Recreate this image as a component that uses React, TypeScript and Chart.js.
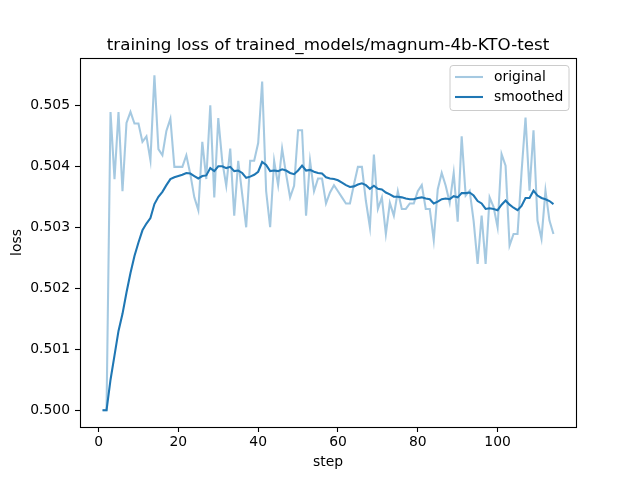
import React, { useEffect, useRef } from "react";
import { Chart, registerables } from "chart.js";

Chart.register(...registerables);

const chartTitle = "training loss of trained_models/magnum-4b-KTO-test";
const xLabel = "step";
const yLabel = "loss";
const seriesLabels = ["original", "smoothed"];

const steps = [
  1, 2, 3, 4, 5, 6, 7, 8, 9, 10, 11, 12, 13, 14, 15, 16, 17, 18, 19, 20,
  21, 22, 23, 24, 25, 26, 27, 28, 29, 30, 31, 32, 33, 34, 35, 36, 37, 38, 39, 40,
  41, 42, 43, 44, 45, 46, 47, 48, 49, 50, 51, 52, 53, 54, 55, 56, 57, 58, 59, 60,
  61, 62, 63, 64, 65, 66, 67, 68, 69, 70, 71, 72, 73, 74, 75, 76, 77, 78, 79, 80,
  81, 82, 83, 84, 85, 86, 87, 88, 89, 90, 91, 92, 93, 94, 95, 96, 97, 98, 99, 100,
  101, 102, 103, 104, 105, 106, 107, 108, 109, 110, 111, 112, 113, 114,
];

const originalLoss = [
  0.5, 0.5, 0.50489, 0.50379, 0.50489, 0.50359, 0.50471, 0.50489, 0.5047, 0.5047,
  0.5044, 0.50449, 0.5041, 0.50549, 0.50428, 0.50418, 0.50458, 0.50478, 0.50399, 0.50399,
  0.50399, 0.50418, 0.50387, 0.50349, 0.50328, 0.5044, 0.50379, 0.505, 0.50349, 0.50479,
  0.50408, 0.50368, 0.50429, 0.50319, 0.50409, 0.50354, 0.503, 0.50409, 0.50409, 0.50438,
  0.50539, 0.50359, 0.503, 0.50409, 0.50369, 0.50429, 0.50387, 0.50349, 0.50368, 0.50459,
  0.50459, 0.50319, 0.50409, 0.50359, 0.5038, 0.5038, 0.50339, 0.50357, 0.50369, 0.50359,
  0.50349, 0.50339, 0.50339, 0.5037, 0.50399, 0.50399, 0.50343, 0.503, 0.50419, 0.5033,
  0.50349, 0.50289, 0.5034, 0.50319, 0.50359, 0.5033, 0.5033, 0.50339, 0.50339, 0.50359,
  0.50369, 0.5033, 0.5033, 0.50279, 0.50362, 0.50389, 0.50368, 0.5034, 0.50389, 0.50309,
  0.50449, 0.50352, 0.5036, 0.5031, 0.5024, 0.50319, 0.5024, 0.50349, 0.50333, 0.503,
  0.5042, 0.50401, 0.5027, 0.50289, 0.50289, 0.5039, 0.5048, 0.5036, 0.50459, 0.50311,
  0.50281, 0.5036, 0.50311, 0.50289,
];

const smoothedLoss = [
  0.5, 0.5, 0.5005, 0.5009, 0.5013, 0.50158, 0.50193, 0.50225, 0.50253, 0.50275,
  0.50295, 0.50306, 0.50315, 0.50338, 0.5035, 0.50358, 0.50369, 0.50379, 0.50382, 0.50384,
  0.50386, 0.50389, 0.50388, 0.50384, 0.5038, 0.50384, 0.50385, 0.50397, 0.50392, 0.504,
  0.504, 0.50397, 0.50399, 0.50392, 0.50393, 0.50389, 0.50381, 0.50383, 0.50386, 0.50391,
  0.50407, 0.50402, 0.50392, 0.50393, 0.50392, 0.50395, 0.50393, 0.50389, 0.50387, 0.50393,
  0.50401, 0.50393, 0.50394, 0.50391, 0.50389, 0.50388, 0.50382, 0.5038, 0.50379, 0.50377,
  0.50373, 0.50369, 0.50366, 0.50367, 0.5037, 0.50372, 0.50369, 0.50363, 0.50368, 0.50363,
  0.50362, 0.50357, 0.50354, 0.5035, 0.5035, 0.50349, 0.50347, 0.50346, 0.50346, 0.50348,
  0.50349, 0.50347, 0.50346, 0.50339, 0.50342, 0.50346, 0.50347, 0.50346, 0.50351, 0.50349,
  0.50356, 0.50356, 0.50357, 0.50352, 0.50343, 0.50339, 0.5033, 0.50331, 0.5033, 0.50328,
  0.50337, 0.50344, 0.50337, 0.50332, 0.50328, 0.50335, 0.50348, 0.50348, 0.5036, 0.50352,
  0.50348, 0.50346, 0.50343, 0.50338,
];

const xTicks = [0, 20, 40, 60, 80, 100];
const yTicks = [0.5, 0.501, 0.502, 0.503, 0.504, 0.505];

const FONT = "'DejaVu Sans', 'Liberation Sans', sans-serif";
const BLUE = "#1f77b4";
const LIGHT_BLUE = "rgba(31,119,180,0.4)";

export default function App() {
  const canvasRef = useRef<HTMLCanvasElement | null>(null);

  useEffect(() => {
    const canvas = canvasRef.current;
    if (!canvas) return;

    const framePlugin = {
      id: "mplFrame",
      afterDraw(chart: any) {
        const { ctx, chartArea } = chart;
        const { left, right, top, bottom } = chartArea;
        ctx.save();
        // spines
        ctx.strokeStyle = "#000";
        ctx.lineWidth = 1.1;
        ctx.strokeRect(Math.round(left) + 0.5, Math.round(top) + 0.5, Math.round(right - left), Math.round(bottom - top));
        // title
        ctx.fillStyle = "#000";
        ctx.font = `16.7px ${FONT}`;
        ctx.textAlign = "center";
        ctx.textBaseline = "alphabetic";
        ctx.fillText(chartTitle, (left + right) / 2, top - 8.5);
        // legend
        const lx = right - 126;
        const ly = top + 7.5;
        const lw = 119;
        const lh = 45;
        const r = 3;
        ctx.beginPath();
        ctx.moveTo(lx + r, ly);
        ctx.lineTo(lx + lw - r, ly);
        ctx.arcTo(lx + lw, ly, lx + lw, ly + r, r);
        ctx.lineTo(lx + lw, ly + lh - r);
        ctx.arcTo(lx + lw, ly + lh, lx + lw - r, ly + lh, r);
        ctx.lineTo(lx + r, ly + lh);
        ctx.arcTo(lx, ly + lh, lx, ly + lh - r, r);
        ctx.lineTo(lx, ly + r);
        ctx.arcTo(lx, ly, lx + r, ly, r);
        ctx.closePath();
        ctx.fillStyle = "rgba(255,255,255,0.8)";
        ctx.fill();
        ctx.strokeStyle = "#cccccc";
        ctx.lineWidth = 1;
        ctx.stroke();
        const ds = chart.data.datasets;
        ds.forEach((d: any, i: number) => {
          const yy = ly + 11.5 + i * 20;
          ctx.beginPath();
          ctx.strokeStyle = d.borderColor;
          ctx.lineWidth = 2.08;
          ctx.moveTo(lx + 5, yy);
          ctx.lineTo(lx + 33, yy);
          ctx.stroke();
          ctx.fillStyle = "#000";
          ctx.font = `13.9px ${FONT}`;
          ctx.textAlign = "left";
          ctx.textBaseline = "middle";
          ctx.fillText(d.label, lx + 44, yy + 0.5);
        });
        ctx.restore();
      },
    };

    const chart = new Chart(canvas, {
      type: "line",
      data: {
        datasets: [
          {
            label: seriesLabels[0],
            data: steps.map((s, i) => ({ x: s, y: originalLoss[i] })),
            borderColor: LIGHT_BLUE,
            backgroundColor: LIGHT_BLUE,
            borderWidth: 2.08,
            pointRadius: 0,
            tension: 0,
            order: 1,
          },
          {
            label: seriesLabels[1],
            data: steps.map((s, i) => ({ x: s, y: smoothedLoss[i] })),
            borderColor: BLUE,
            backgroundColor: BLUE,
            borderWidth: 2.08,
            pointRadius: 0,
            tension: 0,
            order: 0,
          },
        ],
      },
      options: {
        responsive: false,
        animation: false,
        events: [],
        layout: { padding: { top: 58, right: 64, left: 0, bottom: 0 } },
        plugins: {
          legend: { display: false },
          title: { display: false },
          tooltip: { enabled: false },
        },
        scales: {
          x: {
            type: "linear",
            min: -4.65,
            max: 119.65,
            afterFit: (scale: any) => {
              scale.height = 53;
            },
            afterBuildTicks: (scale: any) => {
              scale.ticks = xTicks.map((v) => ({ value: v }));
            },
            grid: {
              display: true,
              drawOnChartArea: false,
              drawTicks: true,
              tickLength: 5,
              tickColor: "#000",
              tickWidth: 1.1,
            },
            border: { display: false },
            ticks: {
              color: "#000",
              font: { family: FONT, size: 13.9 },
              padding: 2,
              maxRotation: 0,
              autoSkip: false,
              callback: (v: any) => String(v),
            },
            title: {
              display: true,
              text: xLabel,
              color: "#000",
              font: { family: FONT, size: 13.9 },
              padding: { top: 0, bottom: 9 },
            },
          },
          y: {
            type: "linear",
            min: 0.499725,
            max: 0.505775,
            afterFit: (scale: any) => {
              scale.width = 80;
            },
            afterBuildTicks: (scale: any) => {
              scale.ticks = yTicks.map((v) => ({ value: v }));
            },
            grid: {
              display: true,
              drawOnChartArea: false,
              drawTicks: true,
              tickLength: 5,
              tickColor: "#000",
              tickWidth: 1.1,
            },
            border: { display: false },
            ticks: {
              color: "#000",
              font: { family: FONT, size: 13.9 },
              padding: 5,
              autoSkip: false,
              callback: (v: any) => Number(v).toFixed(3),
            },
            title: {
              display: true,
              text: yLabel,
              color: "#000",
              font: { family: FONT, size: 13.9 },
              padding: { top: 9, bottom: 0 },
            },
          },
        },
      },
      plugins: [framePlugin],
    });

    return () => {
      chart.destroy();
    };
  }, []);

  return (
    <div style={{ position: "absolute", left: 0, top: 0, width: 640, height: 480, background: "#fff" }}>
      <canvas ref={canvasRef} width={640} height={480} style={{ display: "block" }} />
    </div>
  );
}
